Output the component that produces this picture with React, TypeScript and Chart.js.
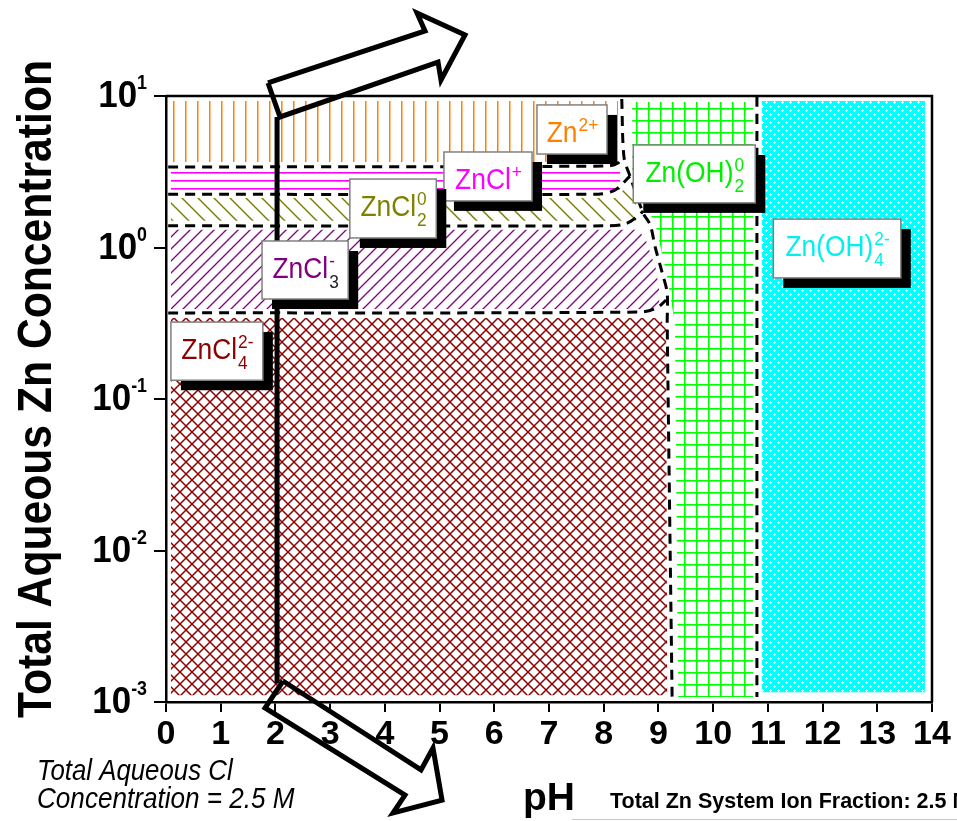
import React, { useEffect, useRef } from 'react';
import { Chart, registerables } from 'chart.js';

Chart.register(...registerables);

type Pt = [number, number];

// ---------- data (pH, total aqueous Zn concentration / M) ----------
const X_TICKS = [0, 1, 2, 3, 4, 5, 6, 7, 8, 9, 10, 11, 12, 13, 14];
const Y_TICK_VALUES = [1e-3, 1e-2, 1e-1, 1, 10];
const Y_TICK_EXPONENTS = ['-3', '-2', '-1', '0', '1'];

// predominance regions
const ZN2_REGION: Pt[] = [[0.09, 9.27], [8.26, 9.27], [8.26, 3.67], [0.09, 3.67]];
const ZNCL_REGION: Pt[] = [[0.09, 3.3], [8.3, 3.3], [8.3, 2.36], [0.09, 2.36]];
const ZNCL2_REGION: Pt[] = [[0.09, 2.12], [8.21, 2.12], [8.44, 2.56], [8.59, 2.06], [8.59, 1.5], [0.09, 1.5]];
const ZNCL3_REGION: Pt[] = [[0.09, 1.31], [8.63, 1.31], [8.77, 1.12], [8.95, 0.733], [9.03, 0.485], [8.99, 0.393], [0.09, 0.393]];
const ZNCL4_REGION: Pt[] = [[0.09, 0.343], [9.03, 0.343], [9.14, 0.29], [9.16, 1.11e-3], [0.09, 1.11e-3]];
const ZNOH2_REGION: Pt[] = [[8.52, 9.12], [8.52, 3.25], [8.75, 1.91], [8.94, 1.45], [9.16, 0.638], [9.3, 0.318], [9.36, 1.08e-3], [10.73, 1.08e-3], [10.73, 9.12]];
const ZNOH4_REGION: Pt[] = [[10.89, 9.27], [13.87, 9.27], [13.87, 1.16e-3], [10.89, 1.16e-3]];

// dashed predominance boundaries
const B_ZN2_ZNCL: Pt[] = [[0.04, 3.4], [8.08, 3.45], [8.26, 3.61], [8.35, 3.96]];
const B_ZNCL_ZNCL2: Pt[] = [[0.04, 2.25], [7.9, 2.25], [8.21, 2.4], [8.48, 2.96]];
const B_ZNCL2_ZNCL3: Pt[] = [[0.04, 1.39], [8.02, 1.39], [8.39, 1.43], [8.61, 1.59], [8.72, 1.74]];
const B_ZNCL3_ZNCL4: Pt[] = [[0.04, 0.37], [8.66, 0.375], [8.97, 0.399], [9.14, 0.45]];
const B_CHLORO_OH: Pt[] = [[8.33, 9.55], [8.37, 3.96], [8.48, 2.96], [8.72, 1.69], [8.85, 1.41], [8.94, 1.01], [9.07, 0.679], [9.16, 0.501], [9.16, 0.318], [9.25, 1.08e-3]];
const B_OH2_OH4: Pt[] = [[10.8, 9.85], [10.8, 1.08e-3]];

// pH 2 marker and the two arrows
const MARKER_LINE: Pt[] = [[2.03, 7.27], [2.03, 1.33e-3]];
const ARROW_UP: Pt[] = [[1.864, 12.19], [4.734, 26.9], [4.588, 35.3], [5.465, 25.3], [5.026, 12.76], [4.972, 16.76], [2.084, 7.27], [1.864, 12.19]];
const ARROW_DOWN: Pt[] = [[2.139, 1.376e-3], [4.661, 3.56e-4], [4.88, 4.97e-4], [5.045, 2.25e-4], [4.149, 1.85e-4], [4.368, 2.43e-4], [1.81, 9.13e-4], [2.139, 1.376e-3]];

// species labels
const SPECIES_MAIN = ['Zn', 'ZnCl', 'ZnCl', 'ZnCl', 'ZnCl', 'Zn(OH)', 'Zn(OH)'];
const SPECIES_SUP = ['2+', '+', '0', '-', '2-', '0', '2-'];
const SPECIES_SUB = ['', '', '2', '3', '4', '2', '4'];
const LABEL_PH: Pt[] = [[6.78, 8.06], [5.08, 6.69], [3.36, 4.94], [1.755, 3.33], [0.09, 1.77], [8.54, 10.77], [11.1, 13.43]];
const LABEL_C: Pt[] = [[8.73, 4.14], [4.27, 2.03], [2.83, 1.156], [1.104, 0.457], [0.322, 0.133], [4.75, 1.97], [1.54, 0.63]];
const LABEL_COLORS = ['#ff8000', '#ff00ff', '#808000', '#800080', '#8b0000', '#00ee00', '#00f0f0'];

const FONT = "'Liberation Sans', Arial, Helvetica, sans-serif";

function tile(w: number, h: number, draw: (g: CanvasRenderingContext2D) => void): CanvasPattern | string {
  const c = document.createElement('canvas');
  c.width = w;
  c.height = h;
  const g = c.getContext('2d');
  if (!g) return '#ccc';
  draw(g);
  return g.createPattern(c, 'repeat') || '#ccc';
}

function makePatterns() {
  const vOrange = tile(12, 12, (g) => {
    g.fillStyle = '#ff8000';
    g.fillRect(5, 0, 1.5, 12);
  });
  const hMagenta = tile(8, 8, (g) => {
    g.fillStyle = '#ff00ff';
    g.fillRect(0, 4, 8, 1.6);
  });
  const bOlive = tile(16, 16, (g) => {
    g.strokeStyle = '#808000';
    g.lineWidth = 1.5;
    g.beginPath();
    g.moveTo(-2, -2); g.lineTo(18, 18);
    g.moveTo(14, -2); g.lineTo(18, 2);
    g.moveTo(-2, 14); g.lineTo(2, 18);
    g.stroke();
  });
  const sPurple = tile(12, 12, (g) => {
    g.strokeStyle = '#800080';
    g.lineWidth = 1.3;
    g.beginPath();
    g.moveTo(-2, 14); g.lineTo(14, -2);
    g.moveTo(-2, 2); g.lineTo(2, -2);
    g.moveTo(10, 14); g.lineTo(14, 10);
    g.stroke();
  });
  const xBrown = tile(12, 12, (g) => {
    g.strokeStyle = '#8b0000';
    g.lineWidth = 1.5;
    g.beginPath();
    g.moveTo(-2, -2); g.lineTo(14, 14);
    g.moveTo(-2, 14); g.lineTo(14, -2);
    g.stroke();
  });
  const gGreen = tile(12, 12, (g) => {
    g.fillStyle = '#00ff00';
    g.fillRect(0, 0, 12, 1.6);
    g.fillRect(0, 0, 1.6, 12);
  });
  const dCyan = tile(8, 8, (g) => {
    g.fillStyle = '#00ffff';
    g.fillRect(0, 0, 8, 8);
    g.fillStyle = '#ffffff';
    // two small cross-shaped holes per tile, staggered
    g.fillRect(1, 2, 3, 1);
    g.fillRect(2, 1, 1, 3);
    g.fillRect(5, 6, 3, 1);
    g.fillRect(6, 5, 1, 3);
  });
  return { vOrange, hMagenta, bOlive, sPurple, xBrown, gGreen, dCyan };
}

const toXY = (pts: Pt[]) => pts.map(([x, y]) => ({ x, y }));

function drawText(
  ctx: CanvasRenderingContext2D,
  text: string,
  x: number,
  y: number,
  font: string,
  color: string,
  align: 'left' | 'center' | 'right',
  sx = 1
): number {
  ctx.save();
  ctx.font = font;
  ctx.fillStyle = color;
  ctx.textBaseline = 'alphabetic';
  ctx.textAlign = 'left';
  const w = ctx.measureText(text).width * sx;
  const dx = align === 'left' ? 0 : align === 'center' ? -w / 2 : -w;
  ctx.translate(x + dx, y);
  ctx.scale(sx, 1);
  ctx.fillText(text, 0, 0);
  ctx.restore();
  return w;
}

function textWidth(ctx: CanvasRenderingContext2D, text: string, font: string) {
  ctx.save();
  ctx.font = font;
  const w = ctx.measureText(text).width;
  ctx.restore();
  return w;
}

const overlayPlugin = {
  id: 'overlay',
  afterDatasetsDraw(chart: any) {
    const ctx: CanvasRenderingContext2D = chart.ctx;
    const xs = chart.scales.x;
    const ys = chart.scales.y;
    const ca = chart.chartArea;

    // frame (top + right)
    ctx.save();
    ctx.strokeStyle = '#000';
    ctx.lineWidth = 2.5;
    ctx.beginPath();
    ctx.moveTo(ca.left, ca.top);
    ctx.lineTo(ca.right, ca.top);
    ctx.lineTo(ca.right, ca.bottom);
    ctx.stroke();
    ctx.restore();

    // species label boxes
    const mainFont = `29px ${FONT}`;
    const scriptFont = `19px ${FONT}`;
    const sx = 0.91;
    for (let i = 0; i < SPECIES_MAIN.length; i++) {
      const x0 = xs.getPixelForValue(LABEL_PH[i][0]);
      const x1 = xs.getPixelForValue(LABEL_PH[i][1]);
      const y0 = ys.getPixelForValue(LABEL_C[i][0]);
      const y1 = ys.getPixelForValue(LABEL_C[i][1]);
      ctx.save();
      ctx.fillStyle = '#000';
      ctx.fillRect(x0 + 10, y0 + 10, x1 - x0, y1 - y0);
      ctx.fillStyle = '#fff';
      ctx.fillRect(x0, y0, x1 - x0, y1 - y0);
      ctx.strokeStyle = '#808080';
      ctx.lineWidth = 1.5;
      ctx.strokeRect(x0, y0, x1 - x0, y1 - y0);
      ctx.restore();

      const mw = textWidth(ctx, SPECIES_MAIN[i], mainFont) * sx;
      const sw = Math.max(textWidth(ctx, SPECIES_SUP[i], scriptFont), textWidth(ctx, SPECIES_SUB[i], scriptFont)) * sx;
      const start = (x0 + x1) / 2 - (mw + sw) / 2;
      const base = y0 + 37;
      const col = LABEL_COLORS[i];
      drawText(ctx, SPECIES_MAIN[i], start, base, mainFont, col, 'left', sx);
      if (SPECIES_SUP[i]) drawText(ctx, SPECIES_SUP[i], start + mw + 1, base - 11, scriptFont, col, 'left', sx);
      if (SPECIES_SUB[i]) drawText(ctx, SPECIES_SUB[i], start + mw + 1, base + 10, scriptFont, i === 3 ? '#222' : col, 'left', sx);
    }
  },
  afterDraw(chart: any) {
    const ctx: CanvasRenderingContext2D = chart.ctx;
    const ys = chart.scales.y;
    const ca = chart.chartArea;

    // y tick labels 10^n
    for (let i = 0; i < Y_TICK_VALUES.length; i++) {
      const y = ys.getPixelForValue(Y_TICK_VALUES[i]);
      const right = ca.left - 19;
      const supW = drawText(ctx, Y_TICK_EXPONENTS[i], right, y - 7, `bold 21px ${FONT}`, '#000', 'right', 0.85);
      drawText(ctx, '10', right - supW, y + 11, `bold 36px ${FONT}`, '#000', 'right', 0.97);
    }

    // y axis title
    const yTitle = 'Total Aqueous Zn Concentration';
    const tFont = `bold 48px ${FONT}`;
    const tw = textWidth(ctx, yTitle, tFont);
    ctx.save();
    ctx.translate(51, (ca.top + ca.bottom) / 2 - 10);
    ctx.rotate(-Math.PI / 2);
    drawText(ctx, yTitle, 0, 0, tFont, '#000', 'center', 658 / tw);
    ctx.restore();

    // x axis title
    drawText(ctx, 'pH', 523, 810, `bold 39px ${FONT}`, '#000', 'left', 1);

    // chloride note
    const iFont = `italic 29px ${FONT}`;
    drawText(ctx, 'Total Aqueous Cl', 37, 780, iFont, '#000', 'left', 0.89);
    drawText(ctx, 'Concentration = 2.5 M', 37, 808, iFont, '#000', 'left', 0.9);

    // cut-off caption of the next panel
    drawText(ctx, 'Total Zn System Ion Fraction: 2.5 M', 610, 808, `bold 21.5px ${FONT}`, '#000', 'left', 1);
    ctx.save();
    ctx.strokeStyle = '#c8c8c8';
    ctx.lineWidth = 1;
    ctx.beginPath();
    ctx.moveTo(572, 819.5);
    ctx.lineTo(957, 819.5);
    ctx.stroke();
    ctx.restore();
  },
};

export default function App() {
  const ref = useRef<HTMLCanvasElement>(null);

  useEffect(() => {
    const canvas = ref.current;
    if (!canvas) return;
    const p = makePatterns();

    const region = (pts: Pt[], pattern: any) => ({
      data: toXY(pts),
      fill: 'shape',
      backgroundColor: pattern,
      borderColor: 'transparent',
      borderWidth: 0,
      pointRadius: 0,
      tension: 0,
      order: 10,
    });
    const boundary = (pts: Pt[]) => ({
      data: toXY(pts),
      fill: false,
      borderColor: '#000',
      borderWidth: 3,
      borderDash: [10, 7],
      pointRadius: 0,
      tension: 0.3,
      order: 5,
    });
    const outline = (pts: Pt[], order: number) => ({
      data: toXY(pts),
      fill: false,
      borderColor: '#000',
      borderWidth: 5,
      borderJoinStyle: 'miter',
      pointRadius: 0,
      tension: 0,
      clip: false,
      order,
    });

    const chart = new Chart(canvas, {
      type: 'line',
      data: {
        datasets: [
          region(ZN2_REGION, p.vOrange),
          region(ZNCL_REGION, p.hMagenta),
          region(ZNCL2_REGION, p.bOlive),
          region(ZNCL3_REGION, p.sPurple),
          region(ZNCL4_REGION, p.xBrown),
          region(ZNOH2_REGION, p.gGreen),
          region(ZNOH4_REGION, p.dCyan),
          boundary(B_ZN2_ZNCL),
          boundary(B_ZNCL_ZNCL2),
          boundary(B_ZNCL2_ZNCL3),
          boundary(B_ZNCL3_ZNCL4),
          boundary(B_CHLORO_OH),
          boundary(B_OH2_OH4),
          outline(MARKER_LINE, 2),
          outline(ARROW_UP, 1),
          outline(ARROW_DOWN, 1),
        ] as any,
      },
      options: {
        animation: false,
        responsive: false,
        events: [],
        layout: { padding: { top: 96, right: 25, left: 0, bottom: 0 } },
        plugins: {
          legend: { display: false },
          tooltip: { enabled: false },
        },
        scales: {
          x: {
            type: 'linear',
            min: 0,
            max: 14,
            afterBuildTicks: (s: any) => {
              s.ticks = X_TICKS.map((v) => ({ value: v }));
            },
            ticks: {
              autoSkip: false,
              maxRotation: 0,
              minRotation: 0,
              padding: 2,
              color: '#000',
              font: { family: FONT, size: 34, weight: 'bold' },
            },
            grid: { display: true, drawOnChartArea: false, drawTicks: true, tickLength: 10, color: '#000', lineWidth: 2 },
            border: { display: true, color: '#000', width: 2.5 },
            afterFit: (s: any) => {
              s.height = 119;
            },
          },
          y: {
            type: 'logarithmic',
            min: 1e-3,
            max: 10,
            afterBuildTicks: (s: any) => {
              s.ticks = Y_TICK_VALUES.map((v) => ({ value: v }));
            },
            ticks: { callback: () => '', font: { size: 10 } },
            grid: { display: true, drawOnChartArea: false, drawTicks: true, tickLength: 12, color: '#000', lineWidth: 2 },
            border: { display: true, color: '#000', width: 2.5 },
            afterFit: (s: any) => {
              s.width = 166;
            },
          },
        },
      } as any,
      plugins: [overlayPlugin],
    });

    return () => chart.destroy();
  }, []);

  return (
    <div style={{ position: 'fixed', left: 0, top: 0, width: 957, height: 821, background: '#fff' }}>
      <canvas ref={ref} width={957} height={821} style={{ display: 'block', width: 957, height: 821 }} />
    </div>
  );
}
